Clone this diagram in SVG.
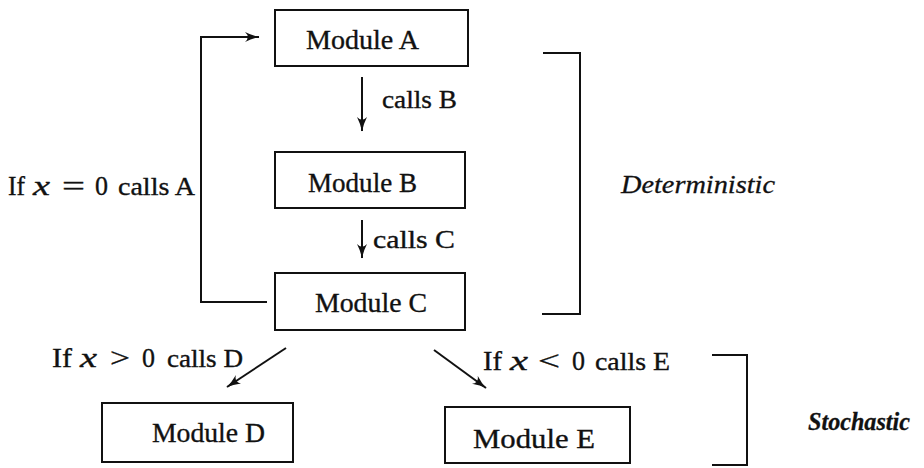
<svg xmlns="http://www.w3.org/2000/svg" width="924" height="468" viewBox="0 0 924 468">
  <defs>
    <style>
      .box { fill: #fff; stroke: #111; stroke-width: 2; }
      .wire { fill: none; stroke: #111; stroke-width: 2; }
      .lbl { font-family: "Liberation Serif", "DejaVu Serif", serif; font-size: 27px; fill: #111; stroke: #111; stroke-width: 0.35; }
      .sm { font-size: 25px; }
      .it { font-style: italic; }
      .tag { font-family: "Liberation Serif", "DejaVu Serif", serif; font-style: italic; font-size: 25px; fill: #111; stroke: #111; stroke-width: 0.3; }
    </style>
    <marker id="head" viewBox="0 0 15 11" refX="14" refY="5.5" markerWidth="15" markerHeight="11" markerUnits="userSpaceOnUse" orient="auto">
      <path d="M0,0.5 Q7.5,4.3 14.5,5.5 Q7.5,6.7 0,10.5 Q5.5,5.5 0,0.5 Z" fill="#111"/>
    </marker>
  </defs>

  <!-- connectors -->
  <g id="connectors">
    <polyline class="wire" points="267,302 201,302 201,37 259,37" marker-end="url(#head)"/>
    <line class="wire" x1="362" y1="77" x2="362" y2="131" marker-end="url(#head)"/>
    <line class="wire" x1="362" y1="220" x2="362" y2="258" marker-end="url(#head)"/>
    <line class="wire" x1="286" y1="348" x2="227" y2="387" marker-end="url(#head)"/>
    <line class="wire" x1="434" y1="350" x2="486" y2="388" marker-end="url(#head)"/>
    <text class="lbl sm" x="382" y="108" textLength="75" lengthAdjust="spacingAndGlyphs">calls B</text>
    <text class="lbl sm" x="373" y="248" textLength="82" lengthAdjust="spacingAndGlyphs">calls C</text>
  </g>

  <!-- condition labels -->
  <g id="cond-a">
    <text class="lbl" x="8" y="195" textLength="17" lengthAdjust="spacingAndGlyphs">If</text>
    <text class="lbl it" x="33" y="195" textLength="17" lengthAdjust="spacingAndGlyphs">x</text>
    <text class="lbl" x="62" y="195" textLength="23" lengthAdjust="spacingAndGlyphs">=</text>
    <text class="lbl" x="95" y="195" textLength="13" lengthAdjust="spacingAndGlyphs">0</text>
    <text class="lbl sm" x="118" y="195" textLength="77" lengthAdjust="spacingAndGlyphs">calls A</text>
  </g>
  <g id="cond-d">
    <text class="lbl" x="52" y="367" textLength="20" lengthAdjust="spacingAndGlyphs">If</text>
    <text class="lbl it" x="80" y="367" textLength="17" lengthAdjust="spacingAndGlyphs">x</text>
    <text class="lbl" x="110" y="367" textLength="20" lengthAdjust="spacingAndGlyphs">&gt;</text>
    <text class="lbl" x="142" y="367" textLength="13" lengthAdjust="spacingAndGlyphs">0</text>
    <text class="lbl sm" x="167" y="367" textLength="76" lengthAdjust="spacingAndGlyphs">calls D</text>
  </g>
  <g id="cond-e">
    <text class="lbl" x="483" y="370" textLength="19" lengthAdjust="spacingAndGlyphs">If</text>
    <text class="lbl it" x="510" y="370" textLength="18" lengthAdjust="spacingAndGlyphs">x</text>
    <text class="lbl" x="538" y="370" textLength="22" lengthAdjust="spacingAndGlyphs">&lt;</text>
    <text class="lbl" x="572" y="370" textLength="13" lengthAdjust="spacingAndGlyphs">0</text>
    <text class="lbl sm" x="595" y="370" textLength="75" lengthAdjust="spacingAndGlyphs">calls E</text>
  </g>

  <!-- modules -->
  <g id="module-a">
    <rect class="box" x="275" y="10" width="193" height="56"/>
    <text class="lbl" x="306" y="49" textLength="113" lengthAdjust="spacingAndGlyphs">Module A</text>
  </g>
  <g id="module-b">
    <rect class="box" x="275" y="152" width="190" height="56"/>
    <text class="lbl" x="308" y="192" textLength="109" lengthAdjust="spacingAndGlyphs">Module B</text>
  </g>
  <g id="module-c">
    <rect class="box" x="275" y="273" width="190" height="57"/>
    <text class="lbl" x="315" y="312" textLength="112" lengthAdjust="spacingAndGlyphs">Module C</text>
  </g>
  <g id="module-d">
    <rect class="box" x="102" y="403" width="191" height="59"/>
    <text class="lbl" x="152" y="442" textLength="113" lengthAdjust="spacingAndGlyphs">Module D</text>
  </g>
  <g id="module-e">
    <rect class="box" x="445" y="407" width="185" height="56"/>
    <text class="lbl" x="473" y="448" textLength="122" lengthAdjust="spacingAndGlyphs">Module E</text>
  </g>

  <!-- grouping brackets -->
  <g id="deterministic">
    <polyline class="wire" points="543,53 580,53 580,314 542,314"/>
    <text class="tag" x="621" y="193" textLength="154" lengthAdjust="spacingAndGlyphs">Deterministic</text>
  </g>
  <g id="stochastic">
    <polyline class="wire" points="712,355 747,355 747,465 712,465"/>
    <text class="tag" x="808" y="430" font-weight="bold" textLength="102" lengthAdjust="spacingAndGlyphs">Stochastic</text>
  </g>
</svg>
